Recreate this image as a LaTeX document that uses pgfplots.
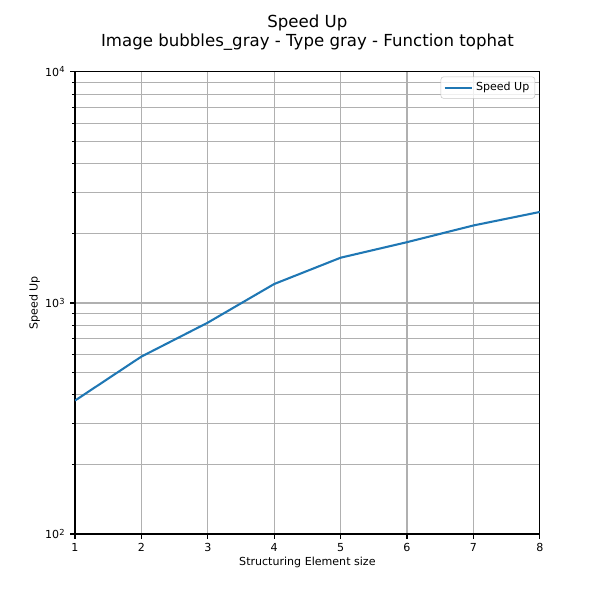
\documentclass[border=0pt]{standalone}
\usepackage{fontspec}
\setmainfont{DejaVu Sans}
\usepackage{pgfplots}
\pgfplotsset{compat=1.18}
\definecolor{mplblue}{HTML}{1F77B4}
\definecolor{gridgray}{HTML}{B0B0B0}
\begin{document}
\begin{tikzpicture}
\begin{axis}[
  scale only axis,
  width=336pt, height=334pt,
  ymode=log,
  xmin=1, xmax=8,
  ymin=100, ymax=10000,
  xtick={1,2,3,4,5,6,7,8},
  ytick={100,1000,10000},
  yticklabels={10\textsuperscript{2},10\textsuperscript{3},10\textsuperscript{4}},
  minor ytick={200,300,400,500,600,700,800,900,2000,3000,4000,5000,6000,7000,8000,9000},
  grid=both,
  major grid style={gridgray, line width=0.8pt},
  minor grid style={gridgray, line width=0.8pt},
  tick align=outside,
  tick pos=left,
  major tick length=3.5pt,
  minor tick length=2pt,
  tick style={black, line width=0.8pt},
  axis line style={line width=0.8pt},
  axis on top=false,
  /pgf/number format/assume math mode=true,
  ticklabel style={font=\fontsize{8}{9.6}\selectfont},
  xlabel={Structuring Element size},
  ylabel={Speed Up},
  label style={font=\fontsize{8}{9.6}\selectfont},
  xlabel style={yshift=3pt},
  ylabel style={yshift=-3pt},
  legend style={font=\fontsize{8}{9.6}\selectfont, draw=gridgray!70, rounded corners=2pt, fill=white, fill opacity=0.8, text opacity=1, at={(0.99,0.99)}, anchor=north east, inner sep=2pt},
  legend image code/.code={\draw[#1] (0cm,0cm) -- (0.7cm,0cm);},
  legend cell align=left,
  clip=true,
]
\addplot[mplblue, line width=1.5pt] coordinates {
  (1,378) (2,586) (3,822) (4,1208) (5,1570) (6,1833) (7,2165) (8,2477)
};
\addlegendentry{Speed Up}
\end{axis}
\path (current axis.south west) ++(-54.2pt,-47.7pt) coordinate (bl);
\path (current axis.north east) ++(43.4pt,52.0pt) coordinate (tr);
\path (bl) rectangle (tr);
\node[font=\fontsize{12}{14.4}\selectfont, align=center, anchor=south] at ([yshift=12pt]current axis.north) {Speed Up\\[-1pt]Image bubbles\_gray - Type gray - Function tophat};
\end{tikzpicture}
\end{document}
